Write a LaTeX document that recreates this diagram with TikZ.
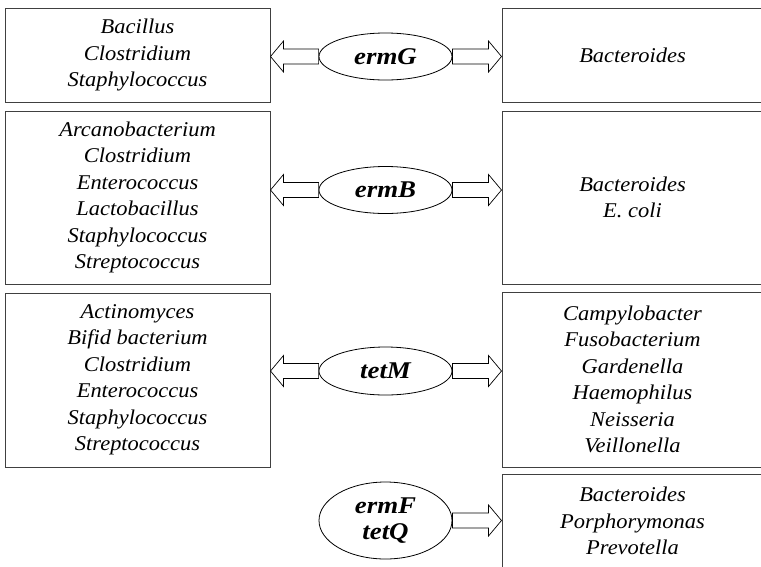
\documentclass[tikz,border=0pt]{standalone}
\usepackage{fontspec}
\setmainfont{Liberation Serif}
\newfontfamily\boxfont{Liberation Serif}[FakeStretch=1.07]
\newfontfamily\genefont{Liberation Serif}[FakeStretch=1.12]
\usetikzlibrary{shapes.geometric,calc}
\tikzset{
  box/.style={draw=black!75, line width=1pt, fill=white, inner sep=0pt, align=center,
    font=\boxfont\fontsize{21}{26.5}\selectfont\itshape},
  lbox/.style={box, minimum width=265pt},
  rbox/.style={box, minimum width=261pt},
  gene/.style={ellipse, draw=black, line width=0.8pt, fill=white, inner sep=0pt,
    minimum width=133pt, align=center, font=\genefont\fontsize{24}{26}\selectfont\bfseries\itshape},
  barrow/.style={draw=black, line width=0.7pt, fill=white, line join=miter}
}
\newcommand\blkarrow[2]{%
  \draw[barrow] ($(#1)+(0,-7.5)$) -- ($(#2)+(-13,-7.5)$) -- ($(#2)+(-13,-15.5)$) -- (#2)
    -- ($(#2)+(-13,15.5)$) -- ($(#2)+(-13,7.5)$) -- ($(#1)+(0,7.5)$) -- cycle;}
\newcommand\blkarrowl[2]{%
  \draw[barrow] ($(#1)+(0,-7.5)$) -- ($(#2)+(13,-7.5)$) -- ($(#2)+(13,-15.5)$) -- (#2)
    -- ($(#2)+(13,15.5)$) -- ($(#2)+(13,7.5)$) -- ($(#1)+(0,7.5)$) -- cycle;}
\begin{document}
\begin{tikzpicture}[x=1pt,y=-1pt]
\clip (0,0) rectangle (761,566);
\fill[white] (0,0) rectangle (761,566);
% left boxes
\node[lbox, minimum height=94pt] (L1) at (137.5,55) {Bacillus\\Clostridium\\Staphylococcus};
\node[lbox, minimum height=173pt] (L2) at (137.5,197.5) {Arcanobacterium\\Clostridium\\Enterococcus\\Lactobacillus\\Staphylococcus\\Streptococcus};
\node[lbox, minimum height=174pt] (L3) at (137.5,380) {Actinomyces\\Bifid bacterium\\Clostridium\\Enterococcus\\Staphylococcus\\Streptococcus};
% right boxes
\node[rbox, minimum height=94pt] (R1) at (632.5,55) {Bacteroides};
\node[rbox, minimum height=173pt] (R2) at (632.5,197.5) {Bacteroides\\E. coli};
\node[rbox, minimum height=175pt] (R3) at (632.5,379.5) {Campylobacter\\Fusobacterium\\Gardenella\\Haemophilus\\Neisseria\\Veillonella};
\node[rbox, minimum height=94pt] (R4) at (632.5,521) {Bacteroides\\Porphorymonas\\Prevotella};
% genes
\node[gene, minimum height=47pt] (E1) at (385.5,56.5) {ermG};
\node[gene, minimum height=47pt] (E2) at (385.5,190) {ermB};
\node[gene, minimum height=48pt] (E3) at (385.5,371) {tetM};
\node[gene, minimum height=77pt] (E4) at (385.5,520.5) {ermF\\tetQ};
% arrow tips
\coordinate (t1l) at (L1.east |- E1.west);
\coordinate (t1r) at (R1.west |- E1.east);
\coordinate (t2l) at (L2.east |- E2.west);
\coordinate (t2r) at (R2.west |- E2.east);
\coordinate (t3l) at (L3.east |- E3.west);
\coordinate (t3r) at (R3.west |- E3.east);
\coordinate (t4r) at (R4.west |- E4.east);
\blkarrowl{E1.west}{t1l}
\blkarrow{E1.east}{t1r}
\blkarrowl{E2.west}{t2l}
\blkarrow{E2.east}{t2r}
\blkarrowl{E3.west}{t3l}
\blkarrow{E3.east}{t3r}
\blkarrow{E4.east}{t4r}
\end{tikzpicture}
\end{document}
